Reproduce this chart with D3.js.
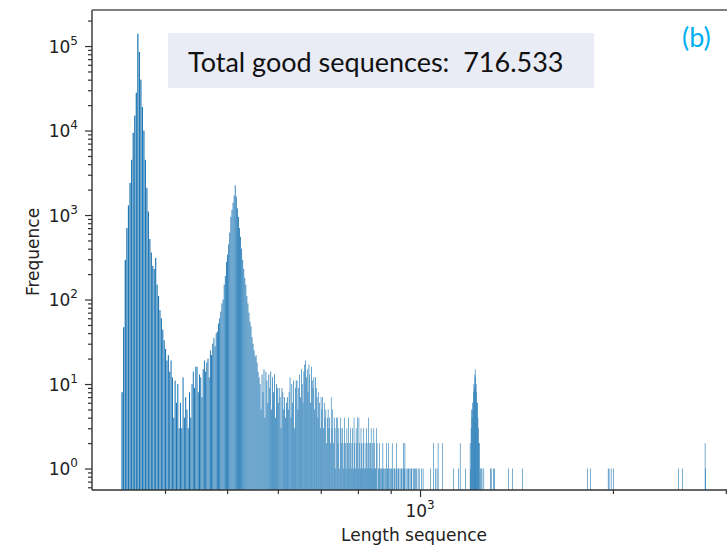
<!DOCTYPE html>
<html><head><meta charset="utf-8">
<script src="https://cdn.jsdelivr.net/npm/d3@7"></script>
<style>
html,body{margin:0;padding:0;background:#fff;overflow:hidden}
svg{display:block}
</style></head><body>
<svg id="chart" width="727" height="547"></svg>
<script>
// Length histogram: 2-unit bins starting at length 342
const binStart = 342;
const binWidth = 2;
const counts = [
  8, 47, 295, 700, 1300, 2400, 4500, 9400, 15000, 28000,
  140000, 85000, 40000, 19000, 10000, 4500, 2100, 1100, 520, 360,
  250, 230, 310, 150, 110, 75, 60, 44, 33, 26,
  19, 22, 14, 19, 12, 4, 11, 6, 10, 3,
  6, 3, 12, 4, 7, 5, 3, 8, 4, 10,
  14, 9, 16, 16, 8, 13, 12, 7, 15, 19,
  14, 18, 20, 12, 25, 22, 30, 35, 28, 40,
  42, 52, 60, 72, 90, 100, 150, 190, 280, 340,
  450, 620, 950, 1150, 1400, 1700, 2250, 1650, 1200, 950,
  700, 550, 400, 295, 230, 180, 150, 110, 90, 70,
  55, 48, 36, 30, 25, 21, 22, 18, 14, 12,
  10, 5, 13, 8, 15, 4, 14, 11, 6, 13,
  9, 14, 5, 12, 8, 13, 4, 10, 9, 6,
  9, 7, 3, 9, 8, 5, 7, 4, 6, 7,
  5, 8, 12, 4, 10, 6, 11, 3, 9, 11,
  11, 5, 9, 13, 7, 15, 10, 6, 14, 17,
  19, 12, 15, 8, 17, 13, 6, 16, 11, 9,
  12, 5, 12, 9, 7, 4, 8, 6, 3, 7,
  5, 7, 3, 6, 4, 5, 2, 4, 5, 3,
  4, 2, 7, 3, 5, 2, 4, 3, 1, 4,
  4, 2, 3, 1, 4, 3, 2, 3, 1, 2,
  4, 2, 1, 3, 2, 4, 1, 2, 3, 1,
  2, 3, 1, 4, 2, 1, 3, 2, 4, 1,
  4, 2, 1, 3, 2, 1, 2, 3, 1, 2,
  1, 3, 2, 1, 4, 2, 1, 2, 3, 1,
  2, 1, 3, 2, 1, 1, 3, 2, 0, 1,
  1, 2, 1, 0, 1, 1, 2, 1, 0, 1,
  1, 0, 2, 1, 1, 2, 0, 1, 1, 0,
  1, 2, 1, 0, 1, 1, 0, 1, 2, 1,
  0, 1, 1, 0, 1, 0, 1, 1, 0, 1,
  2, 1, 2, 0, 1, 0, 1, 0, 1, 1,
  0, 1, 0, 1, 1, 0, 0, 1, 0, 1,
  1, 0, 1, 0, 0, 1, 0, 1, 0
];
// Sparse bins for long sequences (start length of each bin)
const tailLengths = [
  1004, 1010, 1038, 1049, 1056, 1062, 1066, 1082, 1127, 1147,
  1154, 1176, 1196, 1198, 1200, 1202, 1204, 1206, 1208, 1210,
  1212, 1214, 1216, 1218, 1220, 1222, 1224, 1226, 1228, 1230,
  1232, 1234, 1236, 1240, 1244, 1248, 1256, 1286, 1290, 1301,
  1306, 1373, 1393, 1444, 1823, 1842, 1964, 1970, 1985, 2002,
  2530, 2566, 2782, 2786
];
const tailCounts = [
  1, 1, 1, 2, 1, 1, 2, 2, 1, 1,
  2, 1, 2, 1, 3, 5, 4, 6, 5, 8,
  10, 9, 13, 15, 12, 10, 8, 6, 6, 4,
  3, 2, 2, 1, 1, 1, 1, 1, 1, 1,
  1, 1, 1, 1, 1, 1, 1, 1, 1, 1,
  1, 1, 2, 1
];
const yTickExponents = [0, 1, 2, 3, 4, 5];
const xTickExponents = [3];
const totalLabel = "Total good sequences:  716.533";
const panelLabel = "(b)";
const xTitle = "Length sequence";
const yTitle = "Frequence";

const svg = d3.select("#chart");
const plot = {left: 92, right: 740, top: 10, bottom: 490};
const x = d3.scaleLog().domain([307.7, 3157]).range([plot.left, plot.right]);
const y = d3.scaleLog().domain([0.557, 2.67e5]).range([plot.bottom, plot.top]);

const bins = counts.map((c, i) => ({len: binStart + i * binWidth, count: c}))
  .concat(tailLengths.map((l, i) => ({len: l, count: tailCounts[i]})))
  .filter(d => d.count > 0);

svg.append("clipPath").attr("id", "plotClip")
  .append("rect").attr("x", plot.left).attr("y", plot.top)
  .attr("width", plot.right - plot.left).attr("height", plot.bottom - plot.top);

// bars
svg.append("g").attr("clip-path", "url(#plotClip)")
  .selectAll("rect").data(bins).join("rect")
  .attr("x", d => x(d.len))
  .attr("width", d => Math.max(x(d.len + binWidth * 0.8) - x(d.len), 0.6))
  .attr("y", d => y(d.count))
  .attr("height", d => plot.bottom - y(d.count))
  .attr("fill", "#1f77b4");

// y ticks
const yMajor = yTickExponents.map(e => Math.pow(10, e));
const yMinor = [];
for (let e = -1; e <= 5; e++) for (let m = 2; m <= 9; m++) {
  const v = m * Math.pow(10, e);
  if (v >= y.domain()[0] && v <= y.domain()[1]) yMinor.push(v);
}
const axisColor = "#333";
const gy = svg.append("g").attr("transform", `translate(${plot.left},0)`);
gy.call(d3.axisLeft(y).tickValues(yMajor).tickSize(7).tickFormat(""));
const gyMinor = svg.append("g").attr("transform", `translate(${plot.left},0)`);
gyMinor.call(d3.axisLeft(y).tickValues(yMinor).tickSize(4).tickFormat(""));
[gy, gyMinor].forEach(g => {
  g.select(".domain").remove();
  g.selectAll(".tick line").attr("stroke", axisColor).attr("stroke-width", 1.2);
});

yTickExponents.forEach(e => {
  const t = svg.append("text")
    .attr("x", 78).attr("y", y(Math.pow(10, e)) + 6.5)
    .attr("text-anchor", "end")
    .attr("font-family", "DejaVu Sans").attr("fill", "#222");
  t.append("tspan").attr("font-size", 17).text("10");
  t.append("tspan").attr("font-size", 12).attr("dy", -8).text(e);
});

// x ticks
const xMajor = xTickExponents.map(e => Math.pow(10, e));
const xMinor = [400, 500, 600, 700, 800, 900, 2000, 3000];
const gx = svg.append("g").attr("transform", `translate(0,${plot.bottom})`);
gx.call(d3.axisBottom(x).tickValues(xMajor).tickSize(7).tickFormat(""));
const gxMinor = svg.append("g").attr("transform", `translate(0,${plot.bottom})`);
gxMinor.call(d3.axisBottom(x).tickValues(xMinor).tickSize(4).tickFormat(""));
[gx, gxMinor].forEach(g => {
  g.select(".domain").remove();
  g.selectAll(".tick line").attr("stroke", axisColor).attr("stroke-width", 1.2);
});
xTickExponents.forEach(e => {
  const t = svg.append("text")
    .attr("x", x(Math.pow(10, e))).attr("y", 517)
    .attr("text-anchor", "middle")
    .attr("font-family", "DejaVu Sans").attr("fill", "#222");
  t.append("tspan").attr("font-size", 17).text("10");
  t.append("tspan").attr("font-size", 12).attr("dy", -8).text(e);
});

// spines
const spine = svg.append("g").attr("stroke", axisColor).attr("stroke-width", 1.4).attr("fill", "none");
spine.append("line").attr("x1", plot.left).attr("x2", plot.left).attr("y1", plot.top).attr("y2", plot.bottom);
spine.append("line").attr("x1", plot.left).attr("x2", plot.right).attr("y1", plot.bottom).attr("y2", plot.bottom);
spine.append("line").attr("x1", plot.left).attr("x2", plot.right).attr("y1", plot.top).attr("y2", plot.top)
  .attr("stroke", "#555").attr("stroke-width", 1.6);

// axis titles
svg.append("text").attr("x", 414).attr("y", 541).attr("text-anchor", "middle")
  .attr("font-family", "DejaVu Sans").attr("font-size", 17).attr("fill", "#222").text(xTitle);
svg.append("text").attr("transform", "translate(39,252) rotate(-90)").attr("text-anchor", "middle")
  .attr("font-family", "DejaVu Sans").attr("font-size", 17).attr("fill", "#222").text(yTitle);

// annotation box
svg.append("rect").attr("x", 168).attr("y", 33).attr("width", 426).attr("height", 55).attr("fill", "#e9ebf5");
svg.append("text").attr("x", 188).attr("y", 72)
  .attr("font-family", "Lato").attr("font-size", 27).attr("fill", "#111")
  .style("white-space", "pre").text(totalLabel);

svg.append("text").attr("x", 682).attr("y", 47)
  .attr("font-family", "Lato").attr("font-size", 27).attr("fill", "#00b0f0").text(panelLabel);
</script>
</body></html>
